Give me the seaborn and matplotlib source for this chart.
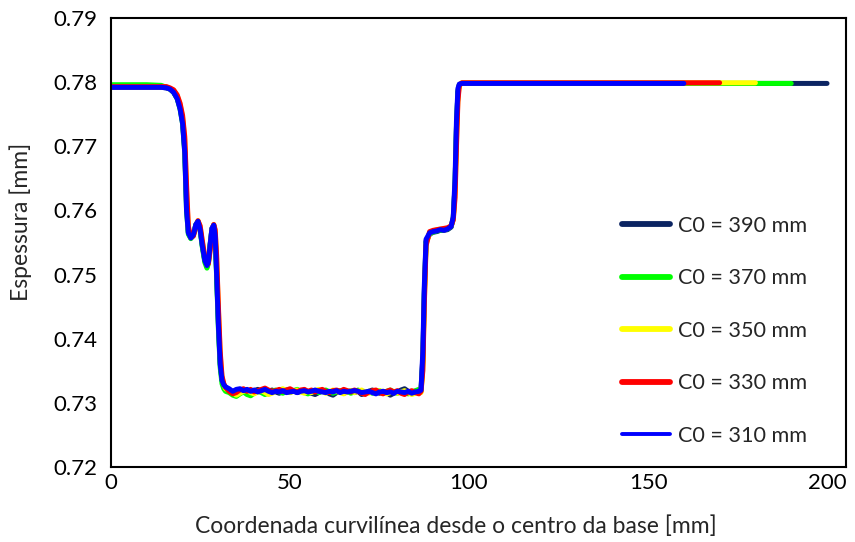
import numpy as np
import pandas as pd
import matplotlib
matplotlib.use("Agg")
import matplotlib.pyplot as plt
import seaborn as sns

# ---------------- data ----------------
series_labels = ["C0 = 390 mm", "C0 = 370 mm", "C0 = 350 mm", "C0 = 330 mm", "C0 = 310 mm"]
series_colors = ["#0b2462", "#00ff00", "#ffff00", "#ff0000", "#0000ff"]

x_dip = [0, 5, 10, 14, 15.5, 16.5, 17.5, 18.5, 19.3, 20, 20.6, 21.1, 21.6, 22.3, 23, 23.7,
         24.3, 24.9, 25.5, 26.2, 26.8, 27.2, 27.7, 28.2, 28.7, 29.1, 29.5, 30, 30.5, 31, 31.5, 32]

y_dip_390 = [0.7792, 0.7792, 0.7792, 0.7792, 0.7791, 0.7789, 0.7784, 0.7775, 0.7760, 0.7738, 0.7695, 0.7610,
             0.7566, 0.7557, 0.7562, 0.7578, 0.7583, 0.7571, 0.7546, 0.7522, 0.7514, 0.7520, 0.7547, 0.7572,
             0.7577, 0.7561, 0.7503, 0.7425, 0.7362, 0.7336, 0.7328, 0.7324]
y_dip_370 = [0.7796, 0.7796, 0.7796, 0.7795, 0.7792, 0.7789, 0.7784, 0.7774, 0.7758, 0.7735, 0.7690, 0.7600,
             0.7563, 0.7556, 0.7561, 0.7577, 0.7582, 0.7569, 0.7543, 0.7519, 0.7510, 0.7517, 0.7546, 0.7571,
             0.7576, 0.7558, 0.7497, 0.7415, 0.7355, 0.7330, 0.7322, 0.7318]
y_dip_350 = [0.7793, 0.7793, 0.7793, 0.7793, 0.7792, 0.7790, 0.7787, 0.7779, 0.7765, 0.7745, 0.7710, 0.7630,
             0.7572, 0.7558, 0.7561, 0.7575, 0.7584, 0.7575, 0.7551, 0.7526, 0.7515, 0.7518, 0.7541, 0.7569,
             0.7578, 0.7568, 0.7525, 0.7445, 0.7375, 0.7340, 0.7329, 0.7322]
y_dip_330 = [0.7793, 0.7793, 0.7793, 0.7793, 0.7793, 0.7791, 0.7788, 0.7780, 0.7767, 0.7748, 0.7715, 0.7640,
             0.7575, 0.7558, 0.7560, 0.7574, 0.7584, 0.7576, 0.7553, 0.7528, 0.7516, 0.7517, 0.7538, 0.7568,
             0.7578, 0.7570, 0.7530, 0.7450, 0.7380, 0.7342, 0.7330, 0.7324]
y_dip_310 = [0.7792, 0.7792, 0.7792, 0.7792, 0.7791, 0.7789, 0.7784, 0.7774, 0.7758, 0.7735, 0.7690, 0.7600,
             0.7565, 0.7557, 0.7562, 0.7578, 0.7583, 0.7570, 0.7545, 0.7522, 0.7514, 0.7520, 0.7548, 0.7572,
             0.7577, 0.7560, 0.7500, 0.7420, 0.7360, 0.7335, 0.7328, 0.7325]

x_flat = list(range(33, 87))

y_flat_390 = [0.7320, 0.7317, 0.7319, 0.7321, 0.7318, 0.7320, 0.7317, 0.7319, 0.7321, 0.7318,
              0.7316, 0.7318, 0.7320, 0.7317, 0.7315, 0.7318, 0.7320, 0.7317, 0.7319, 0.7316,
              0.7318, 0.7320, 0.7317, 0.7315, 0.7313, 0.7316, 0.7319, 0.7317, 0.7314, 0.7312,
              0.7316, 0.7318, 0.7315, 0.7317, 0.7319, 0.7316, 0.7318, 0.7313, 0.7315, 0.7318,
              0.7320, 0.7317, 0.7315, 0.7318, 0.7316, 0.7312, 0.7315, 0.7317, 0.7320, 0.7322,
              0.7318, 0.7316, 0.7318, 0.7320]
y_flat_370 = [0.7316, 0.7312, 0.7310, 0.7314, 0.7317, 0.7313, 0.7311, 0.7315, 0.7318, 0.7316,
              0.7313, 0.7315, 0.7318, 0.7320, 0.7317, 0.7315, 0.7318, 0.7316, 0.7319, 0.7321,
              0.7318, 0.7316, 0.7314, 0.7317, 0.7319, 0.7316, 0.7318, 0.7320, 0.7317, 0.7315,
              0.7317, 0.7319, 0.7316, 0.7318, 0.7315, 0.7317, 0.7320, 0.7318, 0.7316, 0.7318,
              0.7315, 0.7317, 0.7319, 0.7316, 0.7318, 0.7320, 0.7317, 0.7315, 0.7318, 0.7316,
              0.7314, 0.7317, 0.7319, 0.7321]
y_flat_350 = [0.7320, 0.7316, 0.7312, 0.7315, 0.7318, 0.7320, 0.7316, 0.7314, 0.7317, 0.7319,
              0.7316, 0.7313, 0.7315, 0.7318, 0.7320, 0.7322, 0.7319, 0.7316, 0.7318, 0.7320,
              0.7317, 0.7315, 0.7318, 0.7316, 0.7319, 0.7321, 0.7318, 0.7315, 0.7317, 0.7320,
              0.7318, 0.7316, 0.7314, 0.7317, 0.7319, 0.7316, 0.7318, 0.7320, 0.7317, 0.7315,
              0.7318, 0.7316, 0.7319, 0.7317, 0.7314, 0.7316, 0.7318, 0.7315, 0.7317, 0.7319,
              0.7316, 0.7313, 0.7315, 0.7318]
y_flat_330 = [0.7318, 0.7314, 0.7316, 0.7320, 0.7322, 0.7318, 0.7321, 0.7317, 0.7319, 0.7321,
              0.7323, 0.7320, 0.7318, 0.7319, 0.7321, 0.7318, 0.7320, 0.7322, 0.7319, 0.7317,
              0.7320, 0.7321, 0.7318, 0.7320, 0.7317, 0.7319, 0.7321, 0.7318, 0.7316, 0.7319,
              0.7320, 0.7318, 0.7321, 0.7319, 0.7317, 0.7320, 0.7318, 0.7315, 0.7313, 0.7317,
              0.7319, 0.7320, 0.7316, 0.7314, 0.7318, 0.7320, 0.7317, 0.7319, 0.7315, 0.7313,
              0.7317, 0.7319, 0.7316, 0.7314]
y_flat_310 = [0.7322, 0.7318, 0.7321, 0.7322, 0.7319, 0.7321, 0.7318, 0.7320, 0.7317, 0.7319,
              0.7321, 0.7318, 0.7316, 0.7318, 0.7317, 0.7319, 0.7316, 0.7317, 0.7318, 0.7316,
              0.7318, 0.7319, 0.7317, 0.7318, 0.7320, 0.7318, 0.7317, 0.7316, 0.7318, 0.7317,
              0.7319, 0.7316, 0.7318, 0.7317, 0.7318, 0.7319, 0.7318, 0.7316, 0.7317, 0.7318,
              0.7316, 0.7314, 0.7317, 0.7318, 0.7316, 0.7317, 0.7315, 0.7318, 0.7317, 0.7316,
              0.7318, 0.7315, 0.7317, 0.7318]

x_rise = [86.6, 87.1, 87.5, 88, 89, 90, 91, 92, 93, 94, 95, 95.6, 96.1, 96.5, 96.9, 97.3, 98, 100]

y_rise_390 = [0.7322, 0.7370, 0.7470, 0.7552, 0.7563, 0.7566, 0.7567, 0.7569, 0.7569, 0.7570, 0.7574,
              0.7588, 0.7640, 0.7730, 0.7785, 0.7796, 0.7798, 0.7798]
y_rise_370 = [0.7318, 0.7365, 0.7465, 0.7550, 0.7564, 0.7566, 0.7568, 0.7569, 0.7570, 0.7571, 0.7575,
              0.7588, 0.7640, 0.7730, 0.7785, 0.7796, 0.7798, 0.7798]
y_rise_350 = [0.7316, 0.7355, 0.7455, 0.7547, 0.7566, 0.7568, 0.7570, 0.7571, 0.7571, 0.7572, 0.7576,
              0.7586, 0.7625, 0.7710, 0.7775, 0.7795, 0.7799, 0.7799]
y_rise_330 = [0.7318, 0.7350, 0.7450, 0.7545, 0.7567, 0.7569, 0.7570, 0.7571, 0.7572, 0.7573, 0.7576,
              0.7585, 0.7620, 0.7700, 0.7770, 0.7795, 0.7799, 0.7799]
y_rise_310 = [0.7320, 0.7380, 0.7480, 0.7555, 0.7565, 0.7567, 0.7568, 0.7570, 0.7569, 0.7571, 0.7575,
              0.7590, 0.7650, 0.7740, 0.7790, 0.7797, 0.7798, 0.7798]

x_tail_390 = [120, 140, 160, 180, 200]
x_tail_370 = [120, 140, 160, 180, 190]
x_tail_350 = [120, 140, 160, 170, 180]
x_tail_330 = [120, 140, 160, 170]
x_tail_310 = [120, 140, 160]
y_tail_390 = [0.7798, 0.7798, 0.7798, 0.7798, 0.7798]
y_tail_370 = [0.7798, 0.7798, 0.7798, 0.7798, 0.7798]
y_tail_350 = [0.7799, 0.7799, 0.7799, 0.7799, 0.7799]
y_tail_330 = [0.7799, 0.7799, 0.7799, 0.7799]
y_tail_310 = [0.7798, 0.7798, 0.7798]

x_ticks = [0, 50, 100, 150, 200]
y_ticks = [0.72, 0.73, 0.74, 0.75, 0.76, 0.77, 0.78, 0.79]

# ---------------- build long table ----------------
parts = {
    "C0 = 390 mm": (x_dip + x_flat + x_rise + x_tail_390, y_dip_390 + y_flat_390 + y_rise_390 + y_tail_390),
    "C0 = 370 mm": (x_dip + x_flat + x_rise + x_tail_370, y_dip_370 + y_flat_370 + y_rise_370 + y_tail_370),
    "C0 = 350 mm": (x_dip + x_flat + x_rise + x_tail_350, y_dip_350 + y_flat_350 + y_rise_350 + y_tail_350),
    "C0 = 330 mm": (x_dip + x_flat + x_rise + x_tail_330, y_dip_330 + y_flat_330 + y_rise_330 + y_tail_330),
    "C0 = 310 mm": (x_dip + x_flat + x_rise + x_tail_310, y_dip_310 + y_flat_310 + y_rise_310 + y_tail_310),
}
frames = []
for lab in series_labels:
    xs, ys = parts[lab]
    frames.append(pd.DataFrame({"x": xs, "y": ys, "serie": lab}))
df = pd.concat(frames, ignore_index=True)

# ---------------- plot ----------------
sns.set_style("white")
plt.rcParams["font.family"] = ["Lato", "DejaVu Sans"]

fig = plt.figure(figsize=(8.55, 5.42), dpi=100)
ax = fig.add_axes([111 / 855, 1 - 467 / 542, (846 - 111) / 855, (467 - 18) / 542])

sns.lineplot(data=df, x="x", y="y", hue="serie", hue_order=series_labels,
             palette=dict(zip(series_labels, series_colors)), sort=False,
             linewidth=3.6, ax=ax, estimator=None, solid_capstyle="round")

ax.set_xlim(0, 205.3)
ax.set_ylim(0.72, 0.79)
ax.set_xticks(x_ticks)
ax.set_xticklabels([str(t) for t in x_ticks])
ax.set_yticks(y_ticks)
ax.set_yticklabels([f"{t:.2f}" for t in y_ticks])
ax.tick_params(axis="y", length=0, labelsize=16, colors="#000000", pad=10)
ax.tick_params(axis="x", length=0, labelsize=16, colors="#000000", pad=4)

for side in ["left", "bottom", "top", "right"]:
    ax.spines[side].set_visible(True)
    ax.spines[side].set_color("#000000")
    ax.spines[side].set_linewidth(1.5)

ax.set_xlabel("Coordenada curvilínea desde o centro da base [mm]", fontsize=16.5)
ax.set_ylabel("Espessura [mm]", fontsize=16.5)
ax.xaxis.set_label_coords(0.469, -0.108)
ax.yaxis.set_label_coords(-0.108, 0.546)

leg = ax.legend(loc="upper left", bbox_to_anchor=(0.684, 0.579), frameon=False, fontsize=15.6,
                handlelength=2.2, handletextpad=0.35, labelspacing=1.5, borderaxespad=0)
legend_widths = [4.2, 4.2, 4.2, 4.2, 2.8]
for line, w in zip(leg.get_lines(), legend_widths):
    line.set_linewidth(w)
    line.set_solid_capstyle("round")

fig.savefig("out.png", dpi=100)
